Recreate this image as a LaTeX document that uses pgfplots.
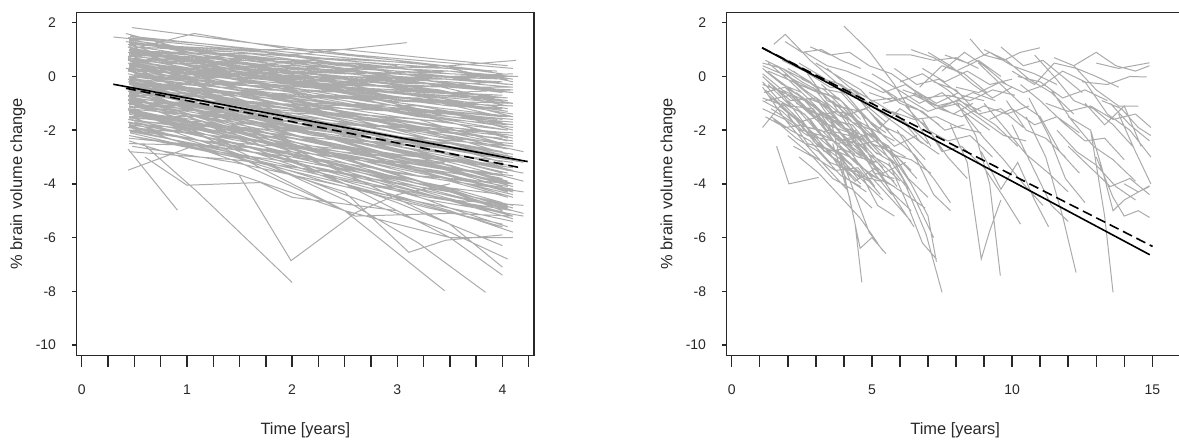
\documentclass[border=0pt]{standalone}
\usepackage{pgfplots}
\pgfplotsset{compat=1.18}
\usepackage{fontspec}
\setmainfont{Liberation Sans}
\definecolor{spag}{RGB}{171,171,171}
\definecolor{axc}{RGB}{40,40,40}
\pgfplotsset{
  myax/.style={
    scale only axis, anchor=south west,
    ymin=-10.40, ymax=2.39,
    ytick={-10,-8,-6,-4,-2,0,2},
    yticklabels={-10,-8,-6,-4,-2,0,2},
    tick align=outside, tick pos=left,
    major tick length=5.5pt,
    ytick style={/pgfplots/major tick length=2.2pt},
    axis line style={axc, line width=0.7pt},
    every tick/.style={axc, line width=0.7pt},
    tick label style={font=\fontsize{7}{8}\selectfont, text=axc},
    label style={font=\fontsize{8.2}{9}\selectfont, text=axc},
    xlabel={Time [years]},
    ylabel={\% brain volume change},
    xlabel style={at={(axis description cs:0.5,-0.2164)}, anchor=center},
    ylabel style={at={(axis description cs:-0.1284,0.5)}, anchor=center},
    xticklabel style={yshift=-5.5pt},
    yticklabel style={xshift=-1.3pt},
    unbounded coords=jump,
  },
  sp/.style={spag, line width=0.5pt},
  fit/.style={black, line width=0.8pt},
  fitd/.style={black, line width=0.8pt, dash pattern=on 5pt off 2.5pt},
}
\begin{document}
\begin{tikzpicture}
% ---------------- left panel ----------------
\begin{axis}[myax, at={(38.35pt,42.15pt)}, width=228.65pt, height=171.7pt,
  xmin=-0.048, xmax=4.30,
  xtick={0,0.25,...,4.25},
  xticklabels={0,,,,1,,,,2,,,,3,,,,4,}]
\addplot[sp] coordinates {
(0.48,1.82)(1.5,1.3)(2.6,0.8)(3.5,0.5)(4.1,0.3) (0,nan)
(0.30,1.47)(1.0,1.2)(2.0,0.8)(3.0,0.4) (0,nan)
(0.45,1.0)(1.07,1.6)(2.0,1.0)(3.0,0.6)(3.9,0.2) (0,nan)
(0.5,0.9)(2.04,0.82)(3.09,1.26) (0,nan)
(0.45,1.3)(1.5,0.7)(2.5,0.3)(3.5,0.1)(4.1,0.0) (0,nan)
(0.45,1.1)(1.4,0.2)(2.4,-0.4)(3.4,-0.8)(4.05,-1.2) (0,nan)
(0.5,0.8)(1.5,0.5)(2.5,0.3)(3.5,0.4)(4.13,0.6) (0,nan)
(0.46,1.5)(1.45,1.1)(2.5,0.7)(3.4,0.4)(4.0,0.1) (0,nan)
(0.44,1.2)(1.5,0.9)(2.45,0.4)(3.5,0.2)(4.1,-0.1) (0,nan)
(0.5,1.0)(1.4,0.5)(2.4,0.2)(3.45,0.0)(4.05,-0.3) (0,nan)
(0.45,0.8)(1.5,0.6)(2.5,0.5)(3.5,0.1)(4.15,0.0) (0,nan)
(0.42,1.3)(1.45,0.8)(2.55,0.1)(3.4,-0.3)(4.0,-0.6) (0,nan)
(0.48,0.6)(1.45,0.3)(2.45,0.0)(3.5,-0.2)(4.1,-0.4) (0,nan)
(0.45,0.9)(1.4,0.4)(2.5,-0.2)(3.45,-0.6)(4.05,-0.9) (0,nan)
(0.5,1.1)(1.5,0.9)(2.45,0.6)(3.5,0.3)(3.95,0.2) (0,nan)
(0.46,0.4)(1.45,0.2)(2.4,-0.1)(3.45,-0.1)(4.1,-0.3) (0,nan)
(0.44,0.7)(1.5,0.0)(2.5,-0.5)(3.5,-1.0)(4.05,-1.3) (0,nan)
(0.45,1.4)(1.5,0.5)(2.5,-0.1)(3.4,-0.5)(4.0,-1.0) (0,nan)
(0.5,0.2)(1.45,0.0)(2.45,-0.3)(3.5,-0.4)(4.1,-0.6) (0,nan)
(0.45,0.3)(1.45,-0.4)(2.45,-1.0)(3.45,-1.6)(4.05,-2.0) (0,nan)
(0.46,0.0)(1.5,-0.5)(2.5,-1.1)(3.5,-1.5)(4.1,-1.8) (0,nan)
(0.44,-0.2)(1.45,-0.6)(2.4,-1.0)(3.45,-1.3)(4.0,-1.5) (0,nan)
(0.48,0.5)(1.4,-0.2)(2.5,-0.9)(3.5,-1.7)(4.05,-2.3) (0,nan)
(0.45,-0.4)(1.5,-0.9)(2.45,-1.5)(3.4,-2.0)(4.1,-2.4) (0,nan)
(0.5,0.1)(1.45,-0.3)(2.5,-0.6)(3.5,-1.1)(4.0,-1.2) (0,nan)
(0.45,-0.6)(1.45,-1.0)(2.45,-1.4)(3.5,-1.9)(4.05,-2.1) (0,nan)
(0.46,0.6)(1.5,-0.1)(2.45,-0.7)(3.45,-1.2)(4.1,-1.5) (0,nan)
(0.44,-0.1)(1.4,-0.8)(2.5,-1.6)(3.45,-2.3)(4.05,-2.7) (0,nan)
(0.45,-0.8)(1.5,-1.2)(2.5,-1.7)(3.5,-2.2)(4.1,-2.6) (0,nan)
(0.5,0.4)(1.45,0.0)(2.45,-0.4)(3.5,-0.8)(4.05,-1.0) (0,nan)
(0.45,-0.3)(1.5,-0.6)(2.4,-0.8)(3.45,-1.0)(4.0,-1.2) (0,nan)
(0.46,-1.0)(1.45,-1.4)(2.5,-2.0)(3.5,-2.5)(4.1,-2.9) (0,nan)
(0.44,0.2)(1.45,-0.5)(2.5,-1.3)(3.4,-1.9)(4.05,-2.4) (0,nan)
(0.48,-0.5)(1.5,-1.1)(2.45,-1.8)(3.5,-2.6)(4.1,-3.0) (0,nan)
(0.45,0.0)(1.4,-0.2)(2.45,-0.5)(3.45,-0.7)(4.05,-0.8) (0,nan)
(0.45,-0.7)(1.45,-1.3)(2.5,-2.1)(3.45,-2.8)(4.0,-3.3) (0,nan)
(0.5,-0.2)(1.5,-0.9)(2.5,-1.3)(3.5,-1.9)(4.1,-2.2) (0,nan)
(0.46,0.8)(1.45,0.1)(2.45,-0.6)(3.5,-1.3)(4.05,-1.8) (0,nan)
(0.44,-1.2)(1.5,-1.6)(2.4,-2.1)(3.45,-2.6)(4.1,-3.1) (0,nan)
(0.45,-0.9)(1.45,-1.5)(2.5,-2.4)(3.5,-3.1)(4.05,-3.6) (0,nan)
(0.5,0.3)(1.45,-0.1)(2.45,-0.7)(3.45,-1.0)(4.1,-1.4) (0,nan)
(0.45,-0.4)(1.4,-0.6)(2.5,-1.2)(3.5,-1.4)(4.0,-1.7) (0,nan)
(0.46,1.0)(1.5,0.3)(2.5,-0.3)(3.45,-0.9)(4.05,-1.3) (0,nan)
(0.45,-1.5)(1.45,-2.0)(2.45,-2.8)(3.5,-3.5)(4.1,-4.0) (0,nan)
(0.44,-1.0)(1.5,-1.8)(2.5,-2.6)(3.45,-3.4)(4.05,-4.0) (0,nan)
(0.5,-0.5)(1.45,-1.4)(2.4,-2.3)(3.5,-3.2)(4.1,-3.8) (0,nan)
(0.45,-1.8)(1.45,-2.3)(2.5,-2.9)(3.45,-3.6)(4.0,-4.2) (0,nan)
(0.46,-0.2)(1.5,-1.0)(2.45,-2.0)(3.5,-2.9)(4.05,-3.5) (0,nan)
(0.45,-1.3)(1.4,-2.0)(2.5,-3.0)(3.45,-3.8)(4.1,-4.4) (0,nan)
(0.48,-2.0)(1.5,-2.6)(2.45,-3.2)(3.5,-3.9)(4.05,-4.5) (0,nan)
(0.45,-0.6)(1.45,-1.6)(2.5,-2.7)(3.5,-3.7)(4.1,-4.3) (0,nan)
(0.44,-1.6)(1.5,-2.4)(2.45,-3.3)(3.45,-4.1)(4.0,-4.7) (0,nan)
(0.5,-1.1)(1.45,-1.7)(2.5,-2.3)(3.5,-2.9)(4.1,-3.2) (0,nan)
(0.45,-2.3)(1.45,-2.7)(2.4,-3.4)(3.5,-4.2)(4.05,-4.9) (0,nan)
(0.46,-0.8)(1.5,-1.9)(2.5,-3.1)(3.45,-4.2)(4.1,-4.9) (0,nan)
(0.45,-2.5)(1.45,-2.6)(2.5,-3.0)(3.5,-3.4)(4.0,-3.7) (0,nan)
(0.44,-1.9)(1.4,-2.6)(2.45,-3.6)(3.5,-4.6)(4.1,-5.2) (0,nan)
(0.5,-1.4)(1.5,-2.2)(2.5,-3.4)(3.45,-4.5)(4.05,-5.1) (0,nan)
(0.45,-2.8)(1.45,-3.1)(2.45,-3.6)(3.5,-4.3)(4.1,-4.8) (0,nan)
(0.45,-0.3)(1.5,-1.2)(2.45,-2.4)(3.5,-3.5)(4.1,-4.1) (0,nan)
(0.46,-2.1)(1.45,-3.0)(2.5,-4.0)(3.45,-5.0)(4.0,-5.6) (0,nan)
(0.44,-1.2)(1.5,-2.1)(2.45,-2.9)(3.5,-3.7)(4.05,-4.1) (0,nan)
(0.48,-2.6)(1.45,-3.2)(2.5,-4.1)(3.5,-4.9)(4.1,-5.4) (0,nan)
(0.44,-2.7)(0.91,-4.98) (0,nan)
(0.44,-3.49)(1.02,-2.65)(2.0,-3.2)(3.0,-4.0)(4.0,-4.9) (0,nan)
(0.58,-2.5)(1.1,-4.3)(2.0,-7.67) (0,nan)
(0.6,-3.0)(1.0,-4.05)(1.7,-3.95)(2.0,-4.5)(3.0,-5.0) (0,nan)
(1.5,-3.7)(1.99,-6.86)(2.61,-5.06)(3.0,-4.4)(3.5,-4.0) (0,nan)
(0.45,-1.8)(1.5,-3.2)(2.5,-5.0)(3.45,-7.98) (0,nan)
(0.5,-1.2)(1.5,-2.8)(2.5,-4.6)(3.2,-6.2)(3.84,-8.04) (0,nan)
(0.45,-1.0)(1.5,-2.2)(2.5,-4.0)(3.5,-6.0)(4.0,-7.4) (0,nan)
(0.46,-1.5)(1.5,-2.9)(2.5,-4.4)(3.5,-5.8)(4.05,-6.8) (0,nan)
(0.45,-2.2)(1.45,-3.0)(2.5,-4.3)(3.11,-6.55)(3.46,-6.1)(4.0,-5.9) (0,nan)
(0.5,-0.8)(1.5,-2.0)(2.5,-3.6)(3.5,-5.5)(4.0,-7.1) (0,nan)
(0.45,-2.4)(1.45,-3.6)(2.5,-5.0)(3.5,-6.0)(4.1,-6.0) (0,nan)
(0.45,-1.7)(1.5,-2.5)(2.5,-3.9)(3.5,-5.0)(4.1,-5.8) (0,nan)
(0.46,-0.4)(1.45,-1.8)(2.5,-3.5)(3.5,-4.9)(4.05,-5.6) (0,nan)
(0.5,-2.0)(1.5,-3.0)(2.6,-5.2)(3.5,-5.1)(4.1,-5.2) (0,nan)
(0.45,-1.3)(2.0,-3.3)(3.0,-4.7)(4.0,-6.3) (0,nan)
(0.42,1.6)(1.0,1.0)(2.0,0.5)(3.0,0.0)(4.0,-0.2) (0,nan)
(0.45,0.5)(1.0,0.0)(2.0,-0.6)(3.0,-1.2)(3.95,-1.6) (0,nan)
(0.5,-0.1)(1.05,-0.3)(2.0,-1.1)(3.05,-1.8)(4.0,-2.2) (0,nan)
(0.44,0.9)(1.0,0.6)(2.0,0.2)(3.0,-0.3)(4.1,-0.5) (0,nan)
(0.45,-0.5)(1.0,-0.8)(2.05,-1.4)(3.0,-2.1)(4.0,-2.8) (0,nan)
(0.46,1.2)(1.05,0.4)(2.0,-0.3)(3.0,-0.8)(3.95,-1.1) (0,nan)
(0.44,0.1)(1.0,-0.4)(2.0,-1.5)(3.0,-2.4)(4.05,-3.1) (0,nan)
(0.5,0.7)(1.0,0.3)(2.05,-0.2)(3.05,-0.6)(4.0,-0.9) (0,nan)
(0.45,-1.3)(1.05,-1.6)(2.0,-2.3)(3.0,-2.9)(4.0,-3.4) (0,nan)
(0.42,0.3)(1.0,0.1)(2.0,-0.3)(3.0,-0.5)(4.0,-0.7) (0,nan)
(0.45,-0.2)(1.0,-0.9)(2.0,-1.9)(3.0,-2.8)(4.1,-3.4) (0,nan)
(0.46,1.0)(1.0,0.8)(2.0,0.3)(3.05,0.1)(4.0,-0.1) (0,nan)
(0.44,-0.9)(1.0,-1.1)(2.0,-1.8)(3.0,-2.5)(4.0,-2.9) (0,nan)
(0.5,0.0)(1.05,-0.2)(2.0,-0.9)(3.0,-1.5)(4.05,-2.0) (0,nan)
(0.45,0.6)(1.0,0.2)(2.0,-0.5)(3.0,-1.1)(4.0,-1.7) (0,nan)
(0.45,-0.6)(1.0,-1.2)(2.05,-2.2)(3.0,-3.0)(4.0,-3.8) (0,nan)
(0.44,1.1)(1.0,0.2)(2.0,-0.1)(3.0,-0.4)(4.05,-0.8) (0,nan)
(0.46,-1.6)(1.0,-1.9)(2.0,-2.6)(3.05,-3.3)(4.0,-3.9) (0,nan)
(0.45,0.4)(1.05,-0.6)(2.0,-1.2)(3.0,-1.7)(4.0,-2.5) (0,nan)
(0.5,-0.3)(1.0,-0.4)(2.0,-0.8)(3.0,-1.3)(4.1,-1.9) (0,nan)
(0.45,1.3)(1.0,0.9)(2.0,0.6)(3.0,0.0)(3.9,-0.5) (0,nan)
(0.44,-0.7)(1.0,-0.7)(2.0,-1.2)(3.0,-1.8)(4.2,-2.8) (0,nan)
(0.45,-1.1)(1.0,-1.5)(2.0,-2.6)(3.0,-3.6)(4.2,-4.3) (0,nan)
(0.46,-0.4)(1.05,-1.0)(2.0,-1.7)(3.0,-2.3)(4.2,-3.2) (0,nan)
(0.45,-1.9)(1.0,-2.1)(2.0,-3.0)(3.0,-3.9)(4.2,-5.1) (0,nan)
(0.5,-1.0)(1.0,-1.3)(2.0,-2.0)(3.0,-2.7)(4.2,-3.6) (0,nan)
(0.45,0.8)(1.4,0.2)(2.5,-0.5) (0,nan)
(0.46,0.3)(1.5,0.1)(2.5,0.2)(3.5,0.0)(4.1,0.0) (0,nan)
(0.44,0.6)(1.45,0.4)(2.5,0.0)(3.5,-0.1)(4.05,0.0) (0,nan)
(0.45,-2.0)(1.5,-2.9)(2.5,-3.8)(3.5,-4.6)(4.2,-4.8) (0,nan)
(0.5,-1.7)(1.45,-2.5)(2.5,-3.3)(3.5,-4.3)(4.1,-5.0) (0,nan)
(0.45,1.25)(1.2,0.9)(2.2,0.2)(3.2,-0.1)(4.0,-0.5) (0,nan)
(0.46,0.95)(1.2,0.2)(2.2,0.1)(3.2,-0.6)(4.0,-0.7) (0,nan)
(0.44,0.65)(1.25,0.5)(2.2,-0.3)(3.2,-0.4)(4.05,-1.1) (0,nan)
(0.45,0.35)(1.2,-0.3)(2.25,-0.4)(3.2,-1.2)(4.0,-1.6) (0,nan)
(0.5,0.05)(1.2,-0.2)(2.2,-1.0)(3.25,-1.1)(4.1,-2.0) (0,nan)
(0.45,-0.25)(1.15,-0.9)(2.2,-1.1)(3.2,-2.0)(4.0,-2.3) (0,nan)
(0.46,-0.55)(1.2,-0.8)(2.2,-1.7)(3.2,-1.9)(4.05,-2.9) (0,nan)
(0.44,-0.85)(1.25,-1.4)(2.2,-1.6)(3.2,-2.5)(4.0,-3.0) (0,nan)
(0.45,-1.15)(1.2,-1.3)(2.2,-2.2)(3.15,-2.6)(4.1,-3.5) (0,nan)
(0.5,-1.45)(1.2,-2.0)(2.25,-2.4)(3.2,-3.3)(4.0,-3.7) (0,nan)
(0.45,-1.75)(1.2,-2.0)(2.2,-2.9)(3.2,-3.4)(4.05,-4.3) (0,nan)
(0.46,-2.05)(1.2,-2.6)(2.2,-3.1)(3.2,-4.0)(4.0,-4.4) (0,nan)
(0.44,1.45)(1.2,1.2)(2.2,0.7)(3.2,0.5)(4.0,0.1) (0,nan)
(0.45,1.15)(1.2,0.7)(2.2,0.6)(3.2,0.0)(4.05,-0.1) (0,nan)
(0.45,0.85)(1.2,0.7)(2.2,0.0)(3.2,-0.2)(4.0,-0.9) (0,nan)
(0.46,0.55)(1.15,0.0)(2.2,-0.2)(3.2,-0.9)(4.1,-1.0) (0,nan)
(0.44,0.25)(1.2,0.1)(2.2,-0.7)(3.2,-0.8)(4.0,-1.5) (0,nan)
(0.45,-0.05)(1.2,-0.6)(2.25,-0.8)(3.2,-1.5)(4.05,-1.8) (0,nan)
(0.5,-0.35)(1.2,-0.5)(2.2,-1.3)(3.2,-1.6)(4.0,-2.5) (0,nan)
(0.45,-0.65)(1.2,-1.2)(2.2,-1.4)(3.25,-2.3)(4.1,-2.6) (0,nan)
(0.46,-0.95)(1.25,-1.1)(2.2,-2.0)(3.2,-2.3)(4.0,-3.2) (0,nan)
(0.44,-1.25)(1.2,-1.8)(2.2,-2.1)(3.2,-3.0)(4.05,-3.3) (0,nan)
(0.45,-1.55)(1.2,-1.7)(2.2,-2.6)(3.2,-3.0)(4.0,-3.9) (0,nan)
(0.45,-1.85)(1.15,-2.4)(2.25,-2.7)(3.2,-3.7)(4.1,-4.0) (0,nan)
(0.45,1.35)(0.95,1.1)(1.75,0.9)(2.6,0.4)(3.5,0.3)(4.1,-0.2) (0,nan)
(0.46,1.05)(0.95,0.6)(1.75,0.4)(2.6,0.2)(3.5,-0.4)(4.1,-0.4) (0,nan)
(0.44,0.75)(0.95,0.6)(1.75,0.0)(2.6,-0.1)(3.5,-0.6)(4.1,-1.0) (0,nan)
(0.45,0.45)(0.95,0.0)(1.75,-0.1)(2.6,-0.7)(3.5,-0.9)(4.1,-1.5) (0,nan)
(0.5,0.15)(0.95,0.0)(1.75,-0.6)(2.6,-0.8)(3.5,-1.5)(4.1,-1.7) (0,nan)
(0.45,-0.15)(0.95,-0.6)(1.75,-0.8)(2.6,-1.4)(3.5,-1.7)(4.1,-2.3) (0,nan)
(0.46,-0.45)(0.95,-0.5)(1.75,-1.2)(2.6,-1.5)(3.5,-2.3)(4.1,-2.5) (0,nan)
(0.44,-0.75)(0.95,-1.1)(1.75,-1.4)(2.6,-2.1)(3.5,-2.5)(4.1,-3.1) (0,nan)
(0.45,-1.05)(0.95,-1.1)(1.75,-1.8)(2.6,-2.3)(3.5,-3.0)(4.1,-3.5) (0,nan)
(0.45,-1.35)(0.95,-1.7)(1.75,-2.1)(2.6,-2.8)(3.5,-3.3)(4.1,-4.0) (0,nan)
(0.5,-1.65)(0.95,-1.8)(1.75,-2.5)(2.6,-3.0)(3.5,-3.8)(4.1,-4.2) (0,nan)
(0.45,-0.25)(0.95,-0.3)(1.75,-0.5)(2.6,-0.6)(3.5,-1.0)(4.1,-1.1) (0,nan)
(0.46,0.35)(0.95,0.3)(1.75,0.0)(2.6,-0.2)(3.5,-0.3)(4.1,-0.6) (0,nan)
(0.44,-0.55)(0.95,-0.9)(1.75,-1.0)(2.6,-1.1)(3.5,-1.4)(4.1,-1.6) (0,nan)
(0.45,0.95)(0.95,0.9)(1.75,0.5)(2.6,0.5)(3.5,0.1)(4.1,0.0) (0,nan)
(0.45,-0.95)(0.95,-1.4)(1.75,-1.6)(2.6,-2.6)(3.5,-3.4)(4.1,-3.7) (0,nan)
(0.45,0.2)(1.3,-0.8)(2.3,-1.9)(3.3,-3.1)(4.05,-3.9) (0,nan)
(0.46,-0.3)(1.3,-1.3)(2.3,-2.5)(3.3,-3.6)(4.1,-4.5) (0,nan)
(0.44,0.5)(1.3,-0.6)(2.3,-1.8)(3.3,-2.9)(4.0,-3.6) (0,nan)
(0.45,-0.7)(1.3,-1.9)(2.3,-3.0)(3.3,-4.1)(4.05,-4.8) (0,nan)
(0.5,-1.0)(1.3,-2.1)(2.3,-3.3)(3.3,-4.4)(4.1,-5.3) (0,nan)
(0.45,0.0)(1.3,-1.0)(2.3,-2.0)(3.3,-3.0)(4.2,-3.9) (0,nan)
(0.46,-1.3)(1.3,-2.3)(2.3,-3.5)(3.3,-4.6)(4.2,-5.2) (0,nan)
(0.45,-0.5)(1.3,-1.5)(2.3,-2.8)(3.3,-4.0)(4.0,-5.0) (0,nan)
(0.44,-1.7)(1.3,-2.7)(2.3,-3.9)(3.3,-4.9)(4.0,-5.5) (0,nan)
(0.45,0.7)(1.3,-0.2)(2.3,-1.3)(3.3,-2.3)(4.1,-3.0) (0,nan)
(0.5,-0.2)(1.3,-1.1)(2.3,-2.2)(3.3,-3.3)(4.0,-4.1) (0,nan)
(0.45,-2.2)(1.3,-2.8)(2.3,-3.7)(3.3,-4.5)(4.1,-5.0) (0,nan)
(0.45,0.2)(1.5,0.3)(2.5,0.1)(3.5,0.2)(4.1,0.0) (0,nan)
(0.5,1.2)(1.5,1.0)(2.5,1.0)(3.5,0.6)(4.05,0.4) (0,nan)
(0.45,0.0)(1.5,0.1)(2.5,-0.1)(3.5,-0.3)(4.0,-0.2) (0,nan)
(0.44,-0.4)(1.5,-0.2)(2.5,-0.5)(3.5,-0.6)(4.1,-0.5) (0,nan)
(0.46,-1.0)(1.5,-0.9)(2.5,-1.2)(3.5,-1.3)(4.05,-1.5) (0,nan)
(0.45,-1.5)(1.5,-1.5)(2.5,-1.8)(3.5,-2.0)(4.1,-2.1) (0,nan)
(0.45,-2.0)(1.5,-2.0)(2.5,-2.4)(3.5,-2.5)(4.0,-2.8) (0,nan)
(0.5,0.6)(1.5,0.8)(2.5,0.4)(3.5,0.0)(4.1,0.1) (0,nan)
(0.45,1.0)(1.4,0.3)(2.4,-0.2)(3.4,-0.6) (0,nan)
(0.46,-0.1)(1.45,-0.7)(2.5,-1.5) (0,nan)
(0.44,0.6)(1.5,0.0) (0,nan)
(0.45,-1.4)(1.45,-2.3)(2.45,-2.8)(3.45,-3.2) (0,nan)
(0.5,0.9)(1.5,0.4)(2.6,0.1) (0,nan)
(0.45,-0.8)(1.4,-1.8)(2.4,-2.6)(3.4,-3.4) (0,nan)
};
\addplot[fit] coordinates {(0.30,-0.29)(4.24,-3.17)};
\addplot[fitd] coordinates {(0.42,-0.44)(4.16,-3.39)};
\end{axis}
% ---------------- right panel ----------------
\begin{axis}[myax, at={(363.35pt,42.15pt)}, width=228.5pt, height=171.7pt,
  xmin=-0.18, xmax=16.12,
  xtick={0,1,...,16},
  xticklabels={0,,,,,5,,,,,10,,,,,15,}]
\addplot[sp] coordinates {
(1.1,0.3)(2.0,-0.4)(3.0,-1.2)(4.1,-1.8)(5.0,-2.7) (0,nan)
(1.1,-0.3)(1.9,-0.6)(2.9,-1.5)(3.8,-1.3)(4.9,-2.2)(5.8,-3.0) (0,nan)
(1.2,-0.9)(2.1,-0.7)(3.1,-1.6)(4.0,-2.4)(5.1,-2.1) (0,nan)
(1.1,-1.9)(1.8,-1.0)(2.6,-1.4)(3.5,-2.6)(4.3,-3.3) (0,nan)
(1.5,1.2)(1.91,1.57)(2.8,0.6)(3.7,-0.2)(4.6,-0.9)(5.5,-1.7) (0,nan)
(1.3,0.2)(2.2,-0.2)(3.0,-0.9)(3.9,-1.5)(4.8,-1.2)(5.6,-2.0) (0,nan)
(1.6,-2.6)(2.04,-4.0)(3.1,-3.76) (0,nan)
(1.2,-0.5)(2.0,-1.3)(2.9,-2.1)(3.8,-2.9)(4.5,-3.8) (0,nan)
(2.0,0.3)(2.8,-0.2)(3.6,-1.0)(4.4,-2.2)(5.2,-3.1)(6.0,-3.9) (0,nan)
(1.1,0.0)(1.9,-0.8)(2.7,-1.9)(3.6,-3.0)(4.4,-3.6) (0,nan)
(2.3,-0.6)(3.2,-1.3)(4.0,-1.9)(4.9,-3.1)(5.7,-4.3)(6.4,-5.0) (0,nan)
(2.5,-0.1)(3.3,-0.5)(4.2,-1.4)(5.0,-1.1)(5.9,-1.8)(6.8,-2.5) (0,nan)
(3.0,-0.8)(3.8,-2.0)(4.6,-2.8)(5.4,-3.6)(6.2,-3.2) (0,nan)
(2.2,-1.5)(3.0,-2.5)(3.9,-3.3)(4.6,-4.0) (0,nan)
(3.5,-1.5)(4.0,-3.6)(4.4,-5.5)(4.64,-7.67) (0,nan)
(3.6,-2.5)(4.2,-4.5)(4.58,-6.4)(5.0,-6.0)(5.5,-6.6) (0,nan)
(4.0,1.88)(4.9,0.95)(5.8,-0.3)(6.5,-1.5)(7.1,-2.6) (0,nan)
(2.6,0.9)(3.4,0.4)(4.1,0.2)(5.0,-0.2)(5.9,-0.8) (0,nan)
(1.8,0.6)(2.6,0.2)(3.5,-0.4)(4.3,-0.5)(5.2,-1.0)(6.1,-1.6) (0,nan)
(2.0,-2.2)(2.8,-2.9)(3.7,-3.5)(4.5,-3.4)(5.3,-4.4) (0,nan)
(3.2,-0.3)(4.0,-1.0)(4.9,-2.4)(5.8,-3.2)(6.6,-4.7)(7.2,-6.0) (0,nan)
(4.5,-1.2)(5.3,-2.6)(6.1,-3.8)(6.93,-5.87)(7.5,-8.04) (0,nan)
(5.0,0.1)(5.8,-0.4)(6.7,-1.0)(7.5,-0.6)(8.4,-1.4)(9.2,-2.0) (0,nan)
(4.8,-1.8)(5.6,-2.8)(6.4,-4.0)(7.0,-5.2)(7.3,-6.9) (0,nan)
(5.5,0.8)(6.4,0.8)(7.2,0.6)(8.0,0.7)(8.8,0.3) (0,nan)
(6.0,-0.2)(6.8,0.1)(7.7,-0.5)(8.5,-1.2)(9.4,-1.8)(10.2,-2.6) (0,nan)
(5.2,-2.0)(6.0,-1.2)(6.9,-1.8)(7.7,-3.0)(8.4,-3.8) (0,nan)
(7.0,0.9)(7.8,0.4)(8.6,-0.3)(9.3,-0.8)(10.0,-0.4) (0,nan)
(8.5,1.4)(9.0,0.8)(9.7,0.6)(10.3,0.9)(11.0,1.07) (0,nan)
(7.8,-1.8)(8.4,-3.2)(8.9,-6.8)(9.2,-5.75)(9.6,-4.6) (0,nan)
(8.0,-0.9)(8.7,-2.2)(9.2,-4.0)(9.58,-7.42) (0,nan)
(10.5,-1.5)(11.2,-3.0)(11.8,-5.2)(12.28,-7.3) (0,nan)
(10.0,0.2)(10.8,-0.3)(11.5,0.5)(12.3,0.3)(13.0,0.0)(13.8,-0.4) (0,nan)
(11.0,-0.4)(11.8,0.2)(12.6,-0.2)(13.4,-1.4)(14.2,-2.0)(14.95,-3.0) (0,nan)
(12.0,-1.5)(12.8,-2.0)(13.2,-3.4)(13.6,-5.0)(14.0,-4.6)(14.9,-4.07) (0,nan)
(12.8,-2.0)(13.3,-5.2)(13.6,-8.04) (0,nan)
(13.0,0.5)(13.8,0.3)(14.9,0.51) (0,nan)
(12.5,-0.2)(13.4,-0.3)(14.2,0.0)(14.8,-0.02) (0,nan)
(13.0,-3.0)(13.6,-4.5)(14.0,-5.2)(14.5,-5.0)(14.9,-5.25) (0,nan)
(10.8,0.8)(11.5,0.0)(12.2,-0.9)(12.9,-1.2)(13.6,-1.8)(14.3,-2.6) (0,nan)
(8.8,0.5)(9.5,-0.2)(10.3,-1.0)(11.0,-1.5)(11.7,-2.8)(12.4,-3.6) (0,nan)
(9.0,-1.0)(9.8,-2.0)(10.5,-2.9)(11.3,-3.6)(12.0,-4.3) (0,nan)
(10.0,-1.8)(10.7,-3.3)(11.4,-4.8)(12.0,-5.4) (0,nan)
(6.5,-0.6)(7.3,-1.2)(8.1,-1.0)(8.9,-1.6)(9.7,-2.2)(10.5,-2.4) (0,nan)
(11.5,0.7)(12.2,0.4)(13.0,-0.5)(13.8,-1.1)(14.5,-1.1) (0,nan)
(3.8,-2.2)(4.5,-3.2)(5.2,-4.0)(5.9,-4.8)(6.4,-5.4) (0,nan)
(2.8,-1.0)(3.6,-1.8)(4.4,-2.6)(5.1,-2.4)(5.9,-3.0)(6.6,-3.8) (0,nan)
(1.3,-0.7)(2.1,-1.4)(3.0,-2.4)(3.9,-3.1)(4.7,-3.9)(5.4,-4.6) (0,nan)
(1.1,0.4)(2.0,0.0)(2.9,-0.5)(3.8,-0.8)(4.6,-1.6) (0,nan)
(2.1,-0.2)(2.9,-1.0)(3.7,-2.2)(4.5,-2.9)(5.3,-3.5) (0,nan)
(6.8,-1.6)(7.5,-2.8)(8.2,-2.6)(9.0,-3.4)(9.7,-4.5)(10.3,-5.5) (0,nan)
(9.6,1.1)(10.4,0.4)(11.1,0.6)(11.8,0.0)(12.5,-0.6) (0,nan)
(7.5,0.2)(8.3,0.9)(9.0,0.4)(9.8,-0.3) (0,nan)
(12.0,-2.6)(12.8,-3.4)(13.5,-4.1)(14.2,-3.8)(14.9,-4.4) (0,nan)
(3.4,0.3)(4.2,-0.4)(5.0,-0.9)(5.8,-0.8)(6.6,-1.2)(7.4,-1.8) (0,nan)
(5.6,-3.2)(6.2,-4.6)(6.8,-6.2)(7.3,-6.8) (0,nan)
(4.4,-2.0)(5.1,-3.3)(5.8,-4.5)(6.5,-5.6) (0,nan)
(8.9,-2.8)(9.6,-4.2)(10.2,-3.2)(10.8,-4.6)(11.3,-5.6) (0,nan)
(10.6,-0.8)(11.3,-2.2)(11.9,-3.8)(12.6,-4.7) (0,nan)
(13.5,-1.0)(14.2,-1.8)(14.9,-2.4) (0,nan)
(1.4,-1.2)(2.3,-1.8)(3.2,-2.0)(4.1,-2.9)(5.0,-3.7)(5.8,-4.1) (0,nan)
(1.2,-0.1)(2.1,-0.9)(3.0,-0.8)(3.9,-1.8)(4.8,-2.6) (0,nan)
(2.4,0.5)(3.2,0.0)(4.1,-0.7)(5.0,-1.8)(5.8,-2.6)(6.6,-2.2) (0,nan)
(4.6,-0.2)(5.4,-0.6)(6.2,-0.3)(7.0,-0.9)(7.9,-1.4)(8.6,-1.0) (0,nan)
(1.1,0.1)(1.8,-0.5)(2.6,-0.9)(3.4,-1.8)(4.2,-2.1)(5.0,-3.0) (0,nan)
(1.15,-0.6)(1.9,-0.4)(2.7,-1.2)(3.5,-1.6)(4.3,-2.6) (0,nan)
(1.1,-1.2)(1.9,-1.6)(2.7,-2.2)(3.6,-2.4)(4.4,-3.2)(5.2,-3.8) (0,nan)
(1.2,0.6)(2.0,0.2)(2.9,-0.3)(3.7,-1.1)(4.6,-1.3)(5.5,-2.3) (0,nan)
(1.3,-0.3)(2.1,-1.1)(2.9,-1.2)(3.7,-2.3)(4.5,-2.5)(5.4,-3.4) (0,nan)
(1.1,-0.8)(1.9,-1.1)(2.7,-1.9)(3.5,-2.1)(4.4,-2.9) (0,nan)
(1.6,0.4)(2.4,-0.3)(3.3,-0.7)(4.1,-1.4)(4.9,-1.9)(5.8,-2.4) (0,nan)
(1.9,-0.4)(2.7,-0.9)(3.5,-1.6)(4.3,-1.8)(5.1,-2.8)(5.9,-3.3) (0,nan)
(2.2,0.2)(3.0,-0.4)(3.9,-0.6)(4.7,-1.5)(5.5,-2.1) (0,nan)
(2.6,-1.2)(3.4,-2.0)(4.2,-2.2)(5.0,-3.4)(5.8,-3.9) (0,nan)
(3.0,0.5)(3.8,0.0)(4.6,-0.5)(5.4,-1.4)(6.2,-1.7)(7.0,-2.5) (0,nan)
(3.3,-0.9)(4.1,-1.6)(4.9,-2.9)(5.6,-3.3)(6.3,-4.2) (0,nan)
(2.9,-2.4)(3.7,-3.1)(4.4,-3.9)(5.0,-3.5)(5.7,-4.4) (0,nan)
(4.3,-0.5)(5.1,-1.2)(5.9,-1.4)(6.7,-2.4)(7.4,-2.9) (0,nan)
(4.0,-1.2)(4.8,-2.1)(5.6,-2.6)(6.3,-3.8)(7.0,-4.5) (0,nan)
(5.3,-0.4)(6.0,-1.0)(6.8,-1.3)(7.6,-2.0)(8.3,-1.8) (0,nan)
(5.8,0.3)(6.6,-0.3)(7.4,-0.1)(8.2,-0.7)(9.0,-0.9) (0,nan)
(6.2,-1.1)(7.0,-2.0)(7.7,-2.4)(8.5,-2.2)(9.3,-3.0) (0,nan)
(7.2,-0.2)(8.0,-0.5)(8.8,-1.4)(9.6,-1.2)(10.4,-1.9) (0,nan)
(6.4,1.0)(7.2,0.7)(8.0,0.2)(8.8,0.6)(9.6,0.0) (0,nan)
(9.0,1.0)(9.8,0.6)(10.6,-0.1)(11.4,-0.6)(12.2,-1.4) (0,nan)
(10.3,-0.3)(11.0,-0.9)(11.8,-1.7)(12.6,-2.4)(13.3,-2.3)(14.0,-3.1) (0,nan)
(11.4,-0.5)(12.1,-1.6)(12.9,-2.6)(13.6,-3.1)(14.4,-3.9) (0,nan)
(12.2,0.4)(13.0,0.9)(13.7,0.4)(14.4,0.2)(14.9,0.4) (0,nan)
(13.2,-0.9)(13.9,-1.2)(14.5,-1.9)(14.95,-2.2) (0,nan)
(12.6,-1.0)(13.3,-1.8)(14.0,-1.1)(14.6,-2.6) (0,nan)
(11.6,-2.0)(12.3,-2.8)(13.0,-3.3)(13.7,-4.1)(14.4,-4.6) (0,nan)
(13.8,-1.4)(14.4,-2.8)(14.95,-4.0) (0,nan)
(14.0,-4.0)(14.5,-4.3)(14.9,-4.1) (0,nan)
(2.4,-3.0)(3.1,-3.6)(3.9,-4.5)(4.6,-5.3)(5.2,-6.2) (0,nan)
(3.9,-3.0)(4.4,-4.4)(4.9,-5.8)(5.4,-6.5) (0,nan)
(5.9,-2.0)(6.6,-3.1)(7.2,-4.4)(7.8,-5.0) (0,nan)
(1.4,0.9)(2.2,0.5)(3.0,0.0)(3.9,-0.3)(4.7,-0.9) (0,nan)
(1.1,-0.4)(1.9,-1.6)(2.7,-2.6)(3.4,-3.4)(4.1,-4.2) (0,nan)
(2.0,-0.9)(2.8,-1.6)(3.6,-2.7)(4.4,-3.1)(5.1,-4.1) (0,nan)
(3.7,-0.4)(4.5,-0.8)(5.3,-1.8)(6.1,-2.2)(6.9,-3.1) (0,nan)
(4.9,0.4)(5.7,0.1)(6.5,-0.5)(7.3,-1.0)(8.1,-0.6) (0,nan)
(1.5,-1.6)(2.3,-2.3)(3.1,-2.8)(3.9,-3.7)(4.6,-4.1) (0,nan)
(8.3,-1.4)(9.0,-2.3)(9.7,-3.1)(10.4,-4.0)(11.1,-4.8) (0,nan)
(9.8,-0.9)(10.5,-2.0)(11.2,-2.3)(11.9,-3.0) (0,nan)
(7.6,0.8)(8.4,0.5)(9.2,0.9)(10.0,0.4)(10.8,0.1)(11.6,-0.3) (0,nan)
(6.7,-0.4)(7.5,0.4)(8.3,0.1)(9.1,-0.6) (0,nan)
(5.1,-1.5)(5.8,-2.3)(6.5,-2.9)(7.2,-3.8)(7.8,-4.7) (0,nan)
(1.1,-0.2)(1.7,-0.9)(2.4,-1.3)(3.1,-2.1)(3.8,-2.5)(4.5,-3.3) (0,nan)
(1.2,0.2)(1.8,-0.3)(2.5,-0.6)(3.2,-1.3)(3.9,-1.9)(4.6,-2.3) (0,nan)
(1.1,-0.9)(1.8,-1.3)(2.5,-2.0)(3.2,-2.2)(3.9,-3.0)(4.6,-3.6) (0,nan)
(1.3,0.5)(2.0,-0.1)(2.7,-0.8)(3.4,-1.1)(4.1,-2.0)(4.8,-2.4) (0,nan)
(1.6,-0.5)(2.3,-0.8)(3.0,-1.6)(3.7,-1.9)(4.4,-2.8)(5.1,-3.2) (0,nan)
(1.9,0.1)(2.6,-0.5)(3.3,-1.0)(4.0,-1.9)(4.7,-2.2)(5.4,-3.0) (0,nan)
(2.3,-1.0)(3.0,-1.4)(3.7,-2.5)(4.4,-2.4)(5.1,-3.6)(5.8,-3.8) (0,nan)
(2.7,0.1)(3.4,-0.9)(4.1,-1.2)(4.8,-2.0)(5.5,-2.6)(6.2,-3.0) (0,nan)
(3.1,-1.7)(3.8,-2.6)(4.5,-3.0)(5.2,-3.2)(5.9,-4.1) (0,nan)
(1.4,-1.5)(2.1,-2.0)(2.8,-2.4)(3.5,-3.2)(4.2,-3.5)(4.9,-3.9) (0,nan)
(2.5,-1.9)(3.2,-2.6)(3.9,-2.9)(4.6,-3.7)(5.3,-3.9) (0,nan)
(1.1,0.5)(1.8,0.3)(2.5,-0.2)(3.2,-0.6)(3.9,-0.9)(4.6,-1.8) (0,nan)
(1.7,-1.1)(2.4,-1.7)(3.1,-1.5)(3.8,-2.4)(4.5,-2.2)(5.2,-2.9) (0,nan)
(3.4,-2.8)(4.0,-3.4)(4.6,-3.6)(5.2,-4.8)(5.8,-5.2) (0,nan)
(2.0,-1.4)(2.7,-2.5)(3.4,-2.7)(4.1,-3.8)(4.8,-4.3) (0,nan)
(4.1,-2.5)(4.8,-3.0)(5.5,-3.9)(6.2,-4.4)(6.9,-4.9) (0,nan)
(2.9,-0.4)(3.6,-1.3)(4.3,-1.4)(5.0,-2.5)(5.7,-2.8)(6.4,-3.5) (0,nan)
(1.2,-1.5)(1.9,-1.9)(2.6,-1.8)(3.3,-2.8)(4.0,-2.7) (0,nan)
(3.6,-0.9)(4.3,-1.7)(5.0,-2.0)(5.7,-2.9)(6.4,-3.1)(7.1,-3.6) (0,nan)
(2.2,-2.6)(2.9,-3.0)(3.6,-3.8)(4.3,-4.2)(5.0,-4.9) (0,nan)
(4.9,-0.6)(5.7,-0.9)(6.5,-0.7)(7.3,-1.1)(8.1,-0.9)(8.9,-1.3) (0,nan)
(5.4,-1.0)(6.2,-0.8)(7.0,-1.3)(7.8,-1.0)(8.6,-0.6)(9.4,-0.9) (0,nan)
(6.1,-0.5)(6.9,-0.8)(7.7,-0.7)(8.5,-0.9)(9.3,-0.5)(10.1,-0.7) (0,nan)
(7.4,-1.2)(8.2,-1.5)(9.0,-1.1)(9.8,-1.4)(10.6,-1.1) (0,nan)
(5.7,-1.3)(6.5,-1.6)(7.3,-1.5)(8.1,-1.9)(8.9,-2.1) (0,nan)
(8.0,-0.4)(8.8,-0.6)(9.6,-0.2)(10.4,-0.6)(11.2,-0.3) (0,nan)
(9.2,-1.6)(10.0,-1.2)(10.8,-1.8)(11.6,-1.5)(12.4,-2.1) (0,nan)
(10.2,0.0)(11.0,-0.2)(11.8,-0.8)(12.6,-0.5)(13.4,-0.9) (0,nan)
(6.8,0.3)(7.6,-0.2)(8.4,0.2)(9.2,-0.3)(10.0,-0.1) (0,nan)
(11.2,-1.0)(12.0,-1.3)(12.8,-1.1)(13.6,-1.6)(14.4,-1.4)(14.95,-1.9) (0,nan)
(1.9,1.3)(2.5,0.9)(3.2,1.0)(3.9,0.6)(4.6,0.3) (0,nan)
(2.8,1.1)(3.5,0.8)(4.2,0.9)(4.9,0.4) (0,nan)
};
\addplot[fit] coordinates {(1.08,1.07)(14.91,-6.64)};
\addplot[fitd] coordinates {(1.08,1.07)(15.01,-6.33)};
\end{axis}
\pgfresetboundingbox
\path[use as bounding box] (0,0) rectangle (589.5pt,220pt);
\end{tikzpicture}
\end{document}
